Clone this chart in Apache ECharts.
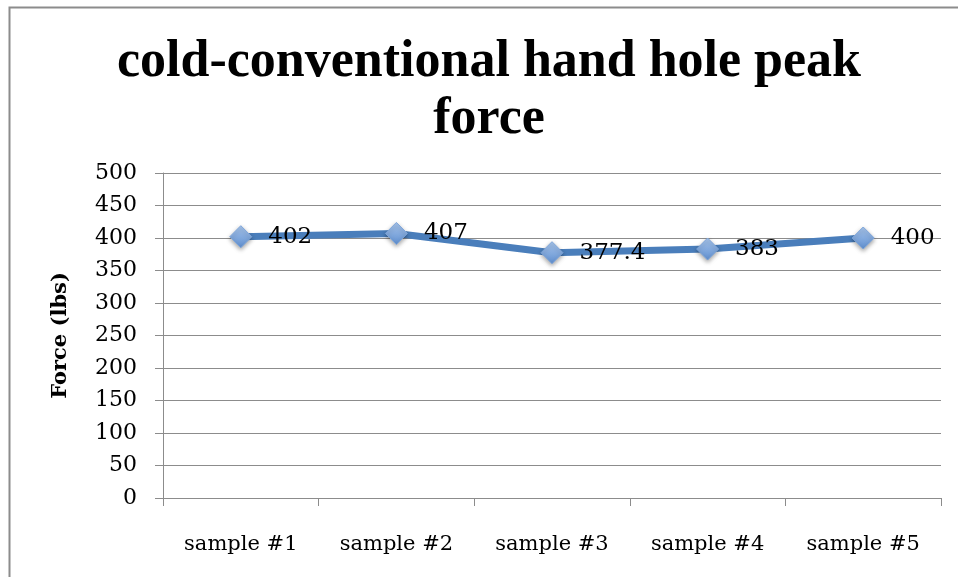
<!DOCTYPE html>
<html>
<head>
<meta charset="utf-8">
<script src="https://cdn.jsdelivr.net/npm/echarts@6/dist/echarts.min.js"></script>
<style>
  html, body { margin: 0; padding: 0; background: #fff; }
  #chart { width: 958px; height: 577px; }
</style>
</head>
<body>
<div id="chart"></div>
<script>
// Peak force per sample
const categories = ['sample #1', 'sample #2', 'sample #3', 'sample #4', 'sample #5'];
const peakForce = [402, 407, 377.4, 383, 400];
const yMin = 0;
const yMax = 500;
const yStep = 50;

const titleFont = '"Liberation Serif", "DejaVu Serif", serif';
const labelFont = '"DejaVu Serif", "Liberation Serif", serif';
const chart = echarts.init(document.getElementById('chart'), null, { renderer: 'canvas' });

chart.setOption({
  backgroundColor: '#ffffff',
  animation: false,
  title: {
    text: 'cold-conventional hand hole peak\nforce',
    left: 489,
    textAlign: 'center',
    top: 34,
    padding: 0,
    textStyle: {
      fontFamily: titleFont,
      fontWeight: 'bold',
      fontSize: 52,
      lineHeight: 57,
      color: '#000'
    }
  },
  graphic: [
    {
      type: 'polyline',
      shape: { points: [[9.5, 577], [9.5, 7.5], [958, 7.5]] },
      style: { stroke: '#8c8c8c', lineWidth: 2, fill: null }
    }
  ],
  grid: { left: 163, right: 17, top: 173, bottom: 79 },
  xAxis: {
    type: 'category',
    data: categories,
    boundaryGap: true,
    axisLine: { lineStyle: { color: '#8c8c8c', width: 1 } },
    axisTick: { show: true, length: 8, inside: false, lineStyle: { color: '#8c8c8c' } },
    axisLabel: { fontFamily: labelFont, fontSize: 21, color: '#000', margin: 36 }
  },
  yAxis: {
    type: 'value',
    min: yMin,
    max: yMax,
    interval: yStep,
    name: 'Force (lbs)',
    nameLocation: 'middle',
    nameGap: 92,
    nameTextStyle: { fontFamily: labelFont, fontWeight: 'bold', fontSize: 21, color: '#000' },
    axisLine: { show: true, lineStyle: { color: '#8c8c8c', width: 1 } },
    axisTick: { show: true, length: 8, lineStyle: { color: '#8c8c8c' } },
    axisLabel: { fontFamily: labelFont, fontSize: 22, color: '#000', margin: 26 },
    splitLine: { show: true, lineStyle: { color: '#8c8c8c', width: 1 } }
  },
  series: [
    {
      type: 'line',
      data: peakForce,
      symbol: 'diamond',
      symbolSize: [22, 22],
      lineStyle: { color: '#4a7ebb', width: 7 },
      itemStyle: {
        color: new echarts.graphic.LinearGradient(0, 0, 0, 1, [
          { offset: 0, color: '#a9c6ec' },
          { offset: 1, color: '#5f8fd0' }
        ]),
        borderColor: '#7ea6db',
        borderWidth: 1,
        shadowColor: 'rgba(0,0,0,0.35)',
        shadowBlur: 4,
        shadowOffsetY: 2
      },
      label: {
        show: true,
        position: 'right',
        distance: 16,
        fontFamily: labelFont,
        fontSize: 23,
        color: '#000'
      }
    }
  ]
});
</script>
</body>
</html>
